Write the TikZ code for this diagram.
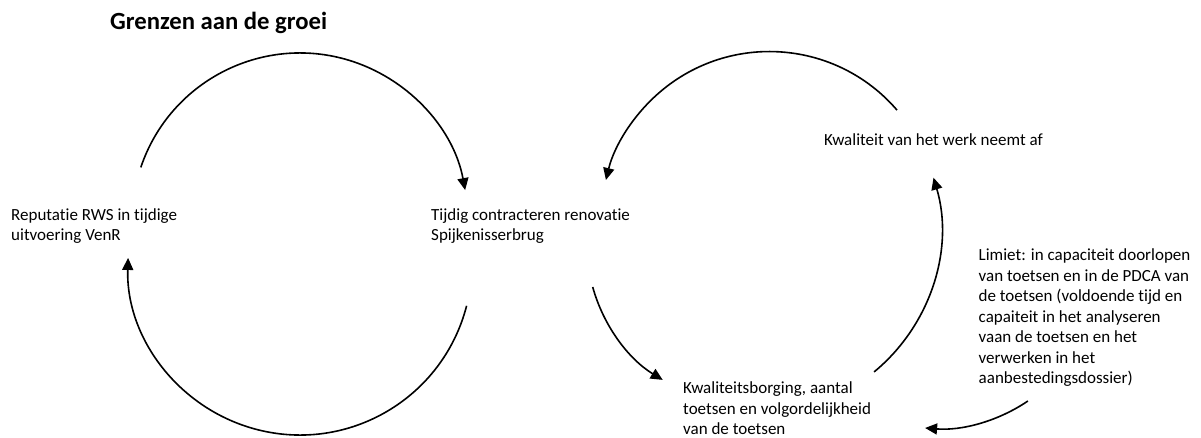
\documentclass[tikz,border=0pt]{standalone}
\usepackage{fontspec}
\setmainfont{Carlito}[Ligatures=NoCommon]
\usetikzlibrary{arrows.meta}

\begin{document}
\begin{tikzpicture}[x=1pt,y=1pt,
    lbl/.style={anchor=base west, align=left, font=\fontsize{17}{20.5}\selectfont},
    loop/.style={black, line width=1.6pt},
    flow/.style={loop, -{Triangle[length=12pt,width=11pt]}}]
            \tikzstyle{every node}+=[inner sep=0pt]
            \useasboundingbox (0,0) rectangle (1201,-438);
            % title
            \node (titel) [anchor=base west, font=\fontsize{24.7}{30}\selectfont\bfseries] at (110,-29.3) {Grenzen aan de groei};
            % texts (base = last line)
            \node (reputatie) [lbl] at (11,-240.5) {Reputatie RWS in tijdige\\uitvoering VenR};
            \node (tijdig) [lbl] at (431,-240.5) {Tijdig contracteren renovatie\\Spijkenisserbrug};
            \node (werk) [lbl] at (824,-145.5) {Kwaliteit van het werk neemt af};
            \node (borging) [lbl] at (683,-434.5) {Kwaliteitsborging, aantal\\toetsen en volgordelijkheid\\van de toetsen};
            \node (limiet) [lbl] at (978.5,-383.5) {Limiet: in capaciteit doorlopen\\van toetsen en in de PDCA van\\de toetsen (voldoende tijd en\\capaiteit in het analyseren\\vaan de toetsen en het\\verwerken in het\\aanbestedingsdossier)};
            % free ends of the arcs
            \coordinate (a1) at (140.8,-167.4);
            \coordinate (a2) at (466.6,-305.8);
            \coordinate (a3) at (897.0,-110.1);
            \coordinate (a4) at (874.1,-371.9);
            \coordinate (a5) at (592.7,-287.0);
            \coordinate (a6) at (1027.9,-401.0);
            % left loop
            \draw [flow] (a1) arc (161.4:10.6:168);
            \draw [flow] (a2) arc (-14.4:-181.7:172);
            % right loop
            \draw [flow] (a3) arc (40.7:166.3:168.3);
            \draw [flow] (a4) arc (-50.5:16.5:184);
            \draw [flow] (a5) arc (-164.6:-121.4:158);
            \draw [flow] (a6) arc (-55.9:-94.7:160);
\end{tikzpicture}
\end{document}
